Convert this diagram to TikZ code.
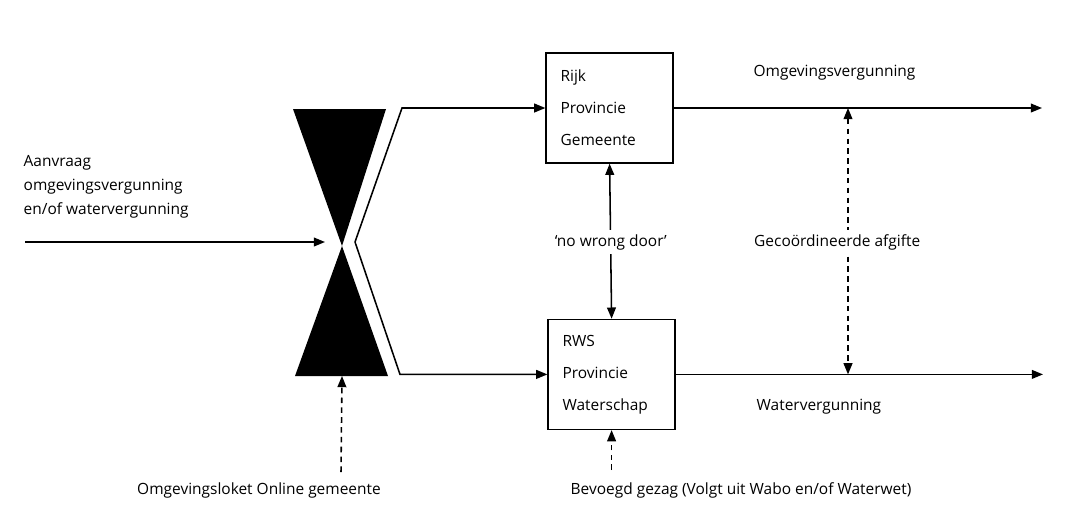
\documentclass[tikz,border=0pt]{standalone}
\usepackage{fontspec}
\setmainfont{Open Sans}
\usetikzlibrary{arrows.meta, positioning}

\begin{document}
\begin{tikzpicture}[
  lbl/.style={font=\fontsize{11}{17}\selectfont, inner sep=1pt},
  orgbox/.style={draw, line width=1pt, minimum width=3.175cm, minimum height=2.75cm, text width=2.45cm, inner xsep=0.35cm, align=left, font=\fontsize{11}{22.8}\selectfont},
  arr/.style={line width=1.1pt, -{Triangle[length=2.8mm,width=2.2mm]}},
  dblarr/.style={line width=1.1pt, {Triangle[length=2.8mm,width=2.2mm]}-{Triangle[length=2.8mm,width=2.2mm]}},
  dashes/.style={dash pattern=on 4pt off 3pt}
]
  \useasboundingbox (0,0) rectangle (27.025,-13.125);

  % zandloper
  \fill (7.325,-2.725) -- (9.65,-2.725) -- (8.55,-6.15) -- cycle;
  \fill (8.55,-6.15) -- (9.7,-9.4) -- (7.375,-9.4) -- cycle;
  \coordinate (hgbot) at (8.55,-9.4);

  % bevoegde instanties
  \node[orgbox] (rijk) at (15.24,-2.7) {Rijk\\Provincie\\Gemeente};
  \node[orgbox] (rws) at (15.29,-9.36) {RWS\\Provincie\\Waterschap};

  % splitsing
  \coordinate (cmid) at (8.875,-6.05);
  \coordinate (ctop) at (10.05,-2.7);
  \coordinate (cbot) at (10,-9.36);
  \draw[arr] (cmid) -- (ctop) -- (rijk.west);
  \draw[arr] (cmid) -- (cbot) -- (rws.west);

  % aanvraag
  \coordinate (in) at (0.625,-6.05);
  \coordinate (inend) at (8.125,-6.05);
  \draw[arr] (in) -- (inend);
  \node[lbl, anchor=west, align=left] (aanvraag) at (0.55,-4.675) {Aanvraag\\omgevingsvergunning\\en/of watervergunning};

  % vergunningen
  \coordinate (outtop) at (26.05,-2.7);
  \coordinate (outbot) at (26.075,-9.36);
  \draw[arr] (rijk.east) -- (outtop);
  \draw[arr] (rws.east) -- (outbot);
  \node[lbl, anchor=west] (ovg) at (18.8,-1.825) {Omgevingsvergunning};
  \node[lbl, anchor=west] (wvg) at (18.875,-10.175) {Watervergunning};

  % no wrong door
  \draw[dblarr] (rijk.south) -- (rws.north);
  \node[lbl, fill=white, inner sep=3pt] (nwd) at (15.27,-6.05) {`no wrong door'};

  % afgifte
  \coordinate (gtop) at (21.2,-2.7);
  \coordinate (gbot) at (21.2,-9.36);
  \draw[dblarr, dashes] (gtop) -- (gbot);
  \node[lbl, fill=white, inner sep=3pt] (afgifte) at (20.93,-6.05) {Gecoördineerde afgifte};

  % loket en bevoegd gezag
  \coordinate (loket) at (8.525,-11.8);
  \draw[arr, dashes] (loket) -- (hgbot);
  \node[lbl] (ool) at (6.475,-12.25) {Omgevingsloket Online gemeente};
  \coordinate (gezag) at (15.29,-11.75);
  \draw[arr, dashes] (gezag) -- (rws.south);
  \node[lbl] (bg) at (18.525,-12.25) {Bevoegd gezag (Volgt uit Wabo en/of Waterwet)};
\end{tikzpicture}
\end{document}
